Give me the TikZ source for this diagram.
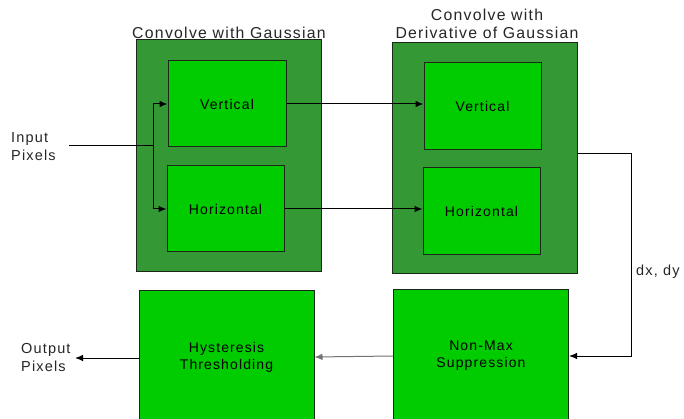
\documentclass[tikz,border=0pt]{standalone}
\usepackage{fontspec}
\setmainfont{Liberation Sans}[LetterSpace=8]
\usetikzlibrary{arrows.meta}
\definecolor{outergreen}{RGB}{52,153,52}
\definecolor{innergreen}{RGB}{0,204,0}
\definecolor{edgecol}{RGB}{25,40,25}
\tikzset{
  outerbox/.style={draw=edgecol, line width=1pt, fill=outergreen, anchor=center, inner sep=0pt},
  innerbox/.style={draw=edgecol, line width=1pt, fill=innergreen, anchor=center, inner sep=0pt,
                   font=\fontsize{14}{17}\selectfont, align=center},
  lbl/.style={font=\fontsize{14.5}{18}\selectfont, text=black!85, inner sep=0pt},
  title/.style={font=\fontsize{15.8}{18}\selectfont, text=black!85, inner sep=0pt, align=center},
  wire/.style={line width=1pt, black},
  arr/.style={wire, -{Latex[length=8pt,width=6.5pt]}},
}
\begin{document}
\begin{tikzpicture}[x=1pt, y=-1pt]
\useasboundingbox (0,0) rectangle (684,419);
\clip (0,0) rectangle (684,419);
\fill[white] (0,0) rectangle (684,419);

% first stage: Gaussian smoothing
\node[outerbox, minimum width=185pt, minimum height=231pt] (g) at (228.5,155.5) {};
\node[innerbox, minimum width=118pt, minimum height=86pt] (gv) at (227,104) {Vertical};
\node[innerbox, minimum width=117pt, minimum height=86pt] (gh) at (225.5,209) {Horizontal};
\node[title] (gt) at (229,33) {Convolve with Gaussian};

% second stage: derivative of Gaussian
\node[outerbox, minimum width=185pt, minimum height=230pt] (d) at (484.5,158) {};
\node[innerbox, minimum width=117pt, minimum height=87pt] (dv) at (482.5,106.5) {Vertical};
\node[innerbox, minimum width=117pt, minimum height=87pt] (dh) at (481.5,211.5) {Horizontal};
\node[title] (dt) at (487,24) {Convolve with\\Derivative of Gaussian};

% lower row
\node[innerbox, minimum width=175pt, minimum height=134pt] (nm) at (481,356) {Non-Max\\Suppression};
\node[innerbox, minimum width=175pt, minimum height=134pt] (hy) at (226.5,357) {Hysteresis\\Thresholding};

% input / output labels
\node[lbl, align=left, anchor=west] (inp) at (11,147) {Input\\Pixels};
\node[lbl, align=left, anchor=west] (outp) at (21,358) {Output\\Pixels};
\node[lbl, anchor=west] (dxdy) at (636,272) {dx, dy};

% connectors
\coordinate (ins) at (69,146);
\coordinate (split) at (153,146);
\draw[wire] (ins) -- (split);
\draw[arr] (split) |- (gv.west);
\draw[arr] (split) |- (gh.west);
\draw[arr] (gv.east) -- (gv.east -| dv.west);
\draw[arr] (gh.east) -- (gh.east -| dh.west);
\coordinate (turn) at (631,154);
\draw[arr] (d.east |- turn) -- (turn) |- (nm.east);
\draw[arr, draw=black!55] (nm.west) -- (hy.east);
\coordinate (outend) at (75,358);
\draw[arr] (hy.west |- outend) -- (outend);
\end{tikzpicture}
\end{document}
